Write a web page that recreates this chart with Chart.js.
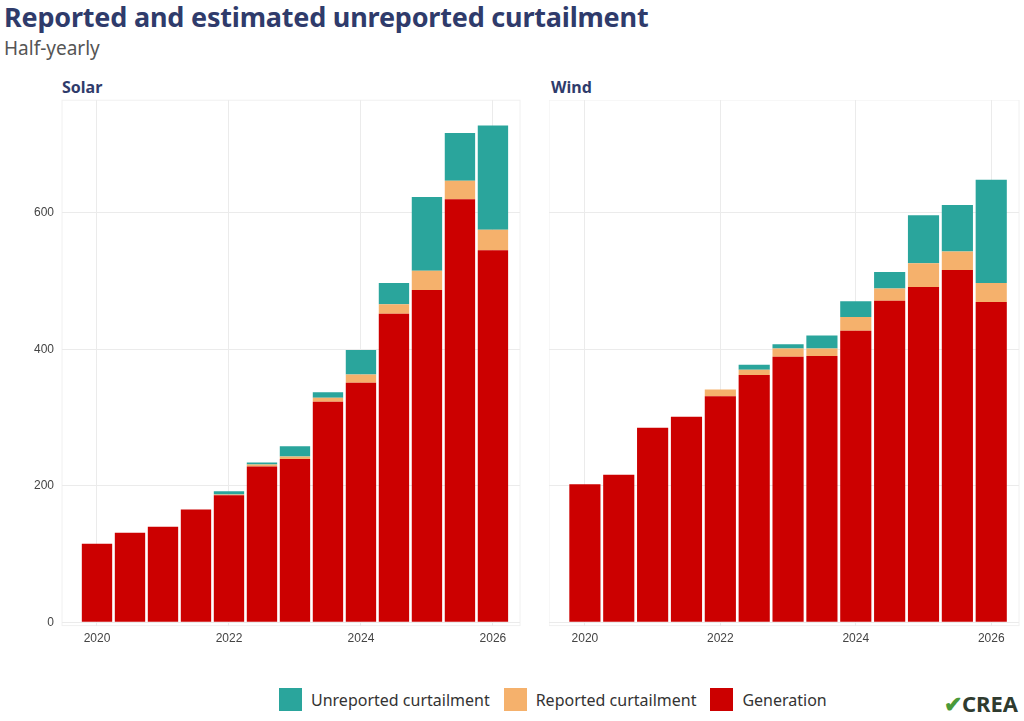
<!DOCTYPE html>
<html>
<head>
<meta charset="utf-8">
<script src="https://cdn.jsdelivr.net/npm/chart.js@4"></script>
<style>
body{margin:0;width:1024px;height:721px;background:#fff;font-family:"Source Sans Pro","Noto Sans",sans-serif;position:relative;overflow:hidden}
h1{position:absolute;left:4px;top:-2px;margin:0;font-size:27px;font-weight:700;color:#2f3b6b;letter-spacing:-0.2px}
.sub{position:absolute;left:4px;top:35px;font-size:19px;color:#555}
.pt{position:absolute;top:76px;font-size:16px;font-weight:700;color:#2f3b6b}
#c1{position:absolute;left:26px;top:85px}
#c2{position:absolute;left:549px;top:100px}
.legend{position:absolute;top:688px;left:279px;display:flex;align-items:center;font-size:16px;color:#333}
.sw{width:23px;height:23px;display:inline-block;margin-right:9px}
.legend span.t{margin-right:14px}
.logo{position:absolute;right:6px;top:688px;font-size:22px;font-weight:700;color:#2f3b2f}
.logo b{color:#4a9a3a}
</style>
</head>
<body>
<h1>Reported and estimated unreported curtailment</h1>
<div class="sub">Half-yearly</div>
<div class="pt" style="left:62px">Solar</div>
<div class="pt" style="left:551px">Wind</div>
<canvas id="c1" width="496" height="567"></canvas>
<canvas id="c2" width="472" height="552"></canvas>
<div class="legend">
<span class="sw" style="background:#2aa59c"></span><span class="t">Unreported curtailment</span>
<span class="sw" style="background:#f5b16c"></span><span class="t">Reported curtailment</span>
<span class="sw" style="background:#cc0000"></span><span class="t">Generation</span>
</div>
<div class="logo"><b>&#10004;</b>CREA</div>
<script>
const periods = [2020,2020.5,2021,2021.5,2022,2022.5,2023,2023.5,2024,2024.5,2025,2025.5,2026]
const xTicks = [2020,2022,2024,2026]

const solarGen = [115,131,140,165,186,228,239,323,351,452,487,620,545]
const solarRep = [0,0,0,0,1,3,4,6,12,14,28,27,30]
const solarUnrep = [0,0,0,0,5,3,15,8,36,31,108,70,153]

const windGen = [202,216,285,301,331,362,389,390,427,471,491,516,469]
const windRep = [0,0,0,0,10,8,12,11,20,18,35,27,28]
const windUnrep = [0,0,0,0,0,7,6,19,23,24,70,68,151]

function pts(arr){ return arr.map((v,i)=>({x:periods[i], y:v})) }

function makeChart(id, gen, rep, unrep, showY){
  new Chart(document.getElementById(id), {
    type: 'bar',
    data: {
      datasets: [
        {label:'Generation', data:pts(gen), backgroundColor:'#cc0000'},
        {label:'Reported curtailment', data:pts(rep), backgroundColor:'#f5b16c'},
        {label:'Unreported curtailment', data:pts(unrep), backgroundColor:'#2aa59c'}
      ]
    },
    options: {
      responsive:false, animation:false,
      layout:{padding:{top:0,right:2,bottom:0,left:0}},
      datasets:{bar:{barPercentage:0.92, categoryPercentage:1}},
      plugins:{legend:{display:false}, tooltip:{enabled:false}},
      scales:{
        x:{type:'linear', stacked:true, offset:false, min:2019.47, max:2026.41, border:{display:false},
          afterBuildTicks: ax => { ax.ticks = xTicks.map(v=>({value:v})) },
          grid:{offset:false, color:'#ebebeb', drawTicks:false},
          ticks:{maxRotation:0, padding:6, color:'#444', font:{size:12}, callback:v=>String(v)}},
        y:{stacked:true, min:-5, max:765, border:{display:false},
          afterBuildTicks: ax => { ax.ticks = [0,200,400,600].map(v=>({value:v})) },
          grid:{color:'#ebebeb', drawTicks:false},
          ticks:{display:showY, padding:8, color:'#444', font:{size:12}}}
      }
    },
    plugins:[{id:'frame', beforeDraw(c){const a=c.chartArea,x=c.ctx;x.save();x.strokeStyle='#f0f0f0';x.strokeRect(a.left,a.top,a.right-a.left,a.bottom-a.top);x.restore()}}]
  })
}
makeChart('c1', solarGen, solarRep, solarUnrep, true)
makeChart('c2', windGen, windRep, windUnrep, false)
</script>
</body>
</html>
